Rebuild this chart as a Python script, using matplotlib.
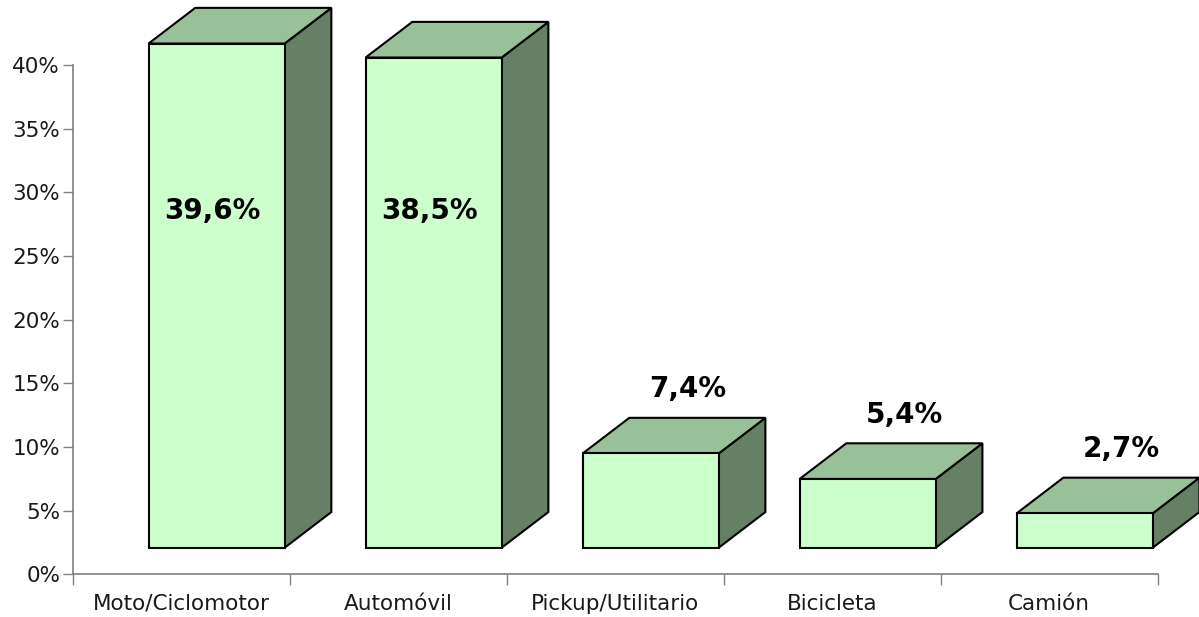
#!/usr/bin/env python
# coding: utf-8

# 3D-style bar chart, share of vehicle types

import matplotlib
matplotlib.use("Agg")
import matplotlib.pyplot as plt
from matplotlib.patches import Polygon

categorias = ["Moto/Ciclomotor", "Automóvil", "Pickup/Utilitario", "Bicicleta", "Camión"]
valores = [39.6, 38.5, 7.4, 5.4, 2.7]
etiquetas = ["39,6%", "38,5%", "7,4%", "5,4%", "2,7%"]
yticks = [0, 5, 10, 15, 20, 25, 30, 35, 40]

# colours of the faces
c_front = "#CCFFCC"
c_top = "#99C199"
c_side = "#668066"

fig = plt.figure(figsize=(11.99, 6.17), dpi=100)
ax = fig.add_axes([0.0606, 0.0692, 0.905, 0.8254])

# fake 3d geometry (data units)
base = 2.09      # floor lift of the front face
dx, dy = 0.215, 2.8
x_l, x_r = 0.35, 0.977

for i, v in enumerate(valores):
    x0, x1 = i + x_l, i + x_r
    y0, y1 = base, base + v
    front = [(x0, y0), (x1, y0), (x1, y1), (x0, y1)]
    top = [(x0, y1), (x1, y1), (x1 + dx, y1 + dy), (x0 + dx, y1 + dy)]
    side = [(x1, y0), (x1 + dx, y0 + dy), (x1 + dx, y1 + dy), (x1, y1)]
    for pts, col in [(side, c_side), (top, c_top), (front, c_front)]:
        ax.add_patch(Polygon(pts, closed=True, facecolor=col, edgecolor="black",
                             linewidth=1.5, joinstyle="miter", clip_on=False, zorder=3))
    xc = (x0 + x1) / 2
    if v > 20:
        ax.text(xc - 0.02, 28.5, etiquetas[i], ha="center", va="center",
                fontsize=20, fontweight="bold", color="black", zorder=4)
    else:
        ax.text(xc + 0.17, y1 + dy + 2.25, etiquetas[i], ha="center", va="center",
                fontsize=20, fontweight="bold", color="black", zorder=4, clip_on=False)

ax.set_xlim(0, 5)
ax.set_ylim(0, 40)

ax.set_yticks(yticks)
ax.set_yticklabels([f"{t}%" for t in yticks])
ax.set_xticks(range(6))
ax.set_xticklabels([])
ax.set_xticks([i + 0.5 for i in range(5)], minor=True)
ax.set_xticklabels(categorias, minor=True)

ax.tick_params(axis="y", which="major", length=7, width=1, color="#808080",
               labelsize=15.5, pad=2, labelcolor="#1a1a1a")
ax.tick_params(axis="x", which="major", length=8, width=1, color="#808080")
ax.tick_params(axis="x", which="minor", length=0, labelsize=15.5, pad=14,
               labelcolor="#1a1a1a")

for s in ["top", "right"]:
    ax.spines[s].set_visible(False)
for s in ["left", "bottom"]:
    ax.spines[s].set_color("#808080")
    ax.spines[s].set_linewidth(1.2)

plt.savefig("out.png", dpi=100)
